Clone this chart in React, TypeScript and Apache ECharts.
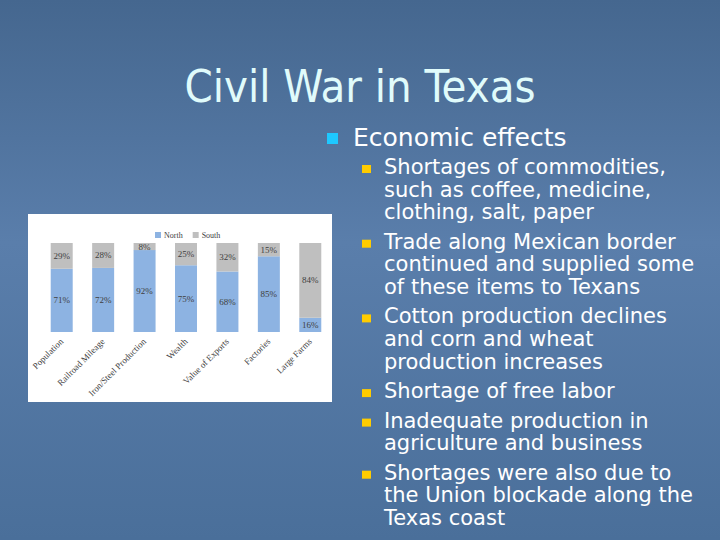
import React, { useEffect, useRef } from 'react';
import * as echarts from 'echarts';

// chart data
const categories = [
  'Population',
  'Railroad Mileage',
  'Iron/Steel Production',
  'Wealth',
  'Value of Exports',
  'Factories',
  'Large Farms',
];
const northValues = [71, 72, 92, 75, 68, 85, 16];
const southValues = [29, 28, 8, 25, 32, 15, 84];

// slide text
const slideTitle = 'Civil War in Texas';
const headingText = 'Economic effects';
const bulletLines = [
  ['Shortages of commodities,', 'such as coffee, medicine,', 'clothing, salt, paper'],
  ['Trade along Mexican border', 'continued and supplied some', 'of these items to Texans'],
  ['Cotton production declines', 'and corn and wheat', 'production increases'],
  ['Shortage of free labor'],
  ['Inadequate production in', 'agriculture and business'],
  ['Shortages were also due to', 'the Union blockade along the', 'Texas coast'],
];

const TITLE_FONT = '"DejaVu Sans Condensed", "DejaVu Sans", sans-serif';
const BODY_FONT = '"DejaVu Sans", sans-serif';
const CHART_FONT = '"Liberation Serif", serif';

function buildSlideGraphics() {
  const items: any[] = [];

  items.push({
    type: 'text',
    x: 360,
    y: 86,
    z: 10,
    style: {
      text: slideTitle,
      fill: '#e0fbfb',
      font: `45px ${TITLE_FONT}`,
      align: 'center',
      verticalAlign: 'middle',
      shadowColor: 'rgba(0,0,0,0.35)',
      shadowOffsetX: 1,
      shadowOffsetY: 1,
      shadowBlur: 1,
    },
  });

  // first level bullet
  items.push({
    type: 'rect',
    z: 10,
    shape: { x: 327, y: 133, width: 11, height: 11 },
    style: { fill: '#1ec8ff' },
  });
  items.push({
    type: 'text',
    x: 353,
    y: 137,
    z: 10,
    style: {
      text: headingText,
      fill: '#ffffff',
      font: `25px ${BODY_FONT}`,
      verticalAlign: 'middle',
    },
  });

  const lineStep = 22.6;
  const paraGap = 6.9;
  let y = 167;
  bulletLines.forEach((lines) => {
    items.push({
      type: 'rect',
      z: 10,
      shape: { x: 362, y: y - 2, width: 9, height: 8 },
      style: { fill: '#ffcc00' },
    });
    lines.forEach((line, i) => {
      items.push({
        type: 'text',
        x: 384,
        y: y + i * lineStep,
        z: 10,
        style: {
          text: line,
          fill: '#ffffff',
          font: `21px ${BODY_FONT}`,
          verticalAlign: 'middle',
        },
      });
    });
    y += lines.length * lineStep + paraGap;
  });

  // white chart panel
  items.push({
    type: 'rect',
    z: 0,
    shape: { x: 28, y: 214, width: 304, height: 188 },
    style: { fill: '#ffffff' },
  });

  return items;
}

const App: React.FC = () => {
  const chartRef = useRef<HTMLDivElement>(null);

  useEffect(() => {
    if (!chartRef.current) return;
    const chart = echarts.init(chartRef.current, undefined, { renderer: 'svg' });

    const labelStyle = {
      show: true,
      position: 'inside',
      formatter: '{c}%',
      color: '#404040',
      fontSize: 9,
      fontFamily: CHART_FONT,
    };

    chart.setOption({
      animation: false,
      backgroundColor: new echarts.graphic.LinearGradient(0, 0, 0, 1, [
        { offset: 0, color: '#45678f' },
        { offset: 0.45, color: '#5a7eab' },
        { offset: 1, color: '#4a6f9a' },
      ]),
      graphic: buildSlideGraphics(),
      legend: {
        data: ['North', 'South'],
        left: 150,
        top: 226,
        itemWidth: 6,
        itemHeight: 6,
        itemGap: 10,
        icon: 'rect',
        textStyle: { fontSize: 8, fontFamily: CHART_FONT, color: '#404040', padding: [0, 0, 0, -2] },
      },
      grid: { left: 41, top: 243, width: 290, height: 89, containLabel: false },
      xAxis: {
        type: 'category',
        data: categories,
        axisLine: { show: false },
        axisTick: { show: false },
        axisLabel: {
          rotate: 45,
          margin: 8,
          interval: 0,
          fontSize: 9,
          fontFamily: CHART_FONT,
          color: '#404040',
        },
      },
      yAxis: { type: 'value', min: 0, max: 100, show: false },
      series: [
        {
          name: 'North',
          type: 'bar',
          stack: 'total',
          data: northValues,
          barWidth: 22,
          itemStyle: { color: '#8db3e2' },
          label: labelStyle,
        },
        {
          name: 'South',
          type: 'bar',
          stack: 'total',
          data: southValues,
          barWidth: 22,
          itemStyle: { color: '#bfbfbf' },
          label: labelStyle,
        },
      ],
    });

    return () => {
      chart.dispose();
    };
  }, []);

  return (
    <div
      ref={chartRef}
      style={{ position: 'fixed', left: 0, top: 0, width: '720px', height: '540px' }}
    />
  );
};

export default App;
